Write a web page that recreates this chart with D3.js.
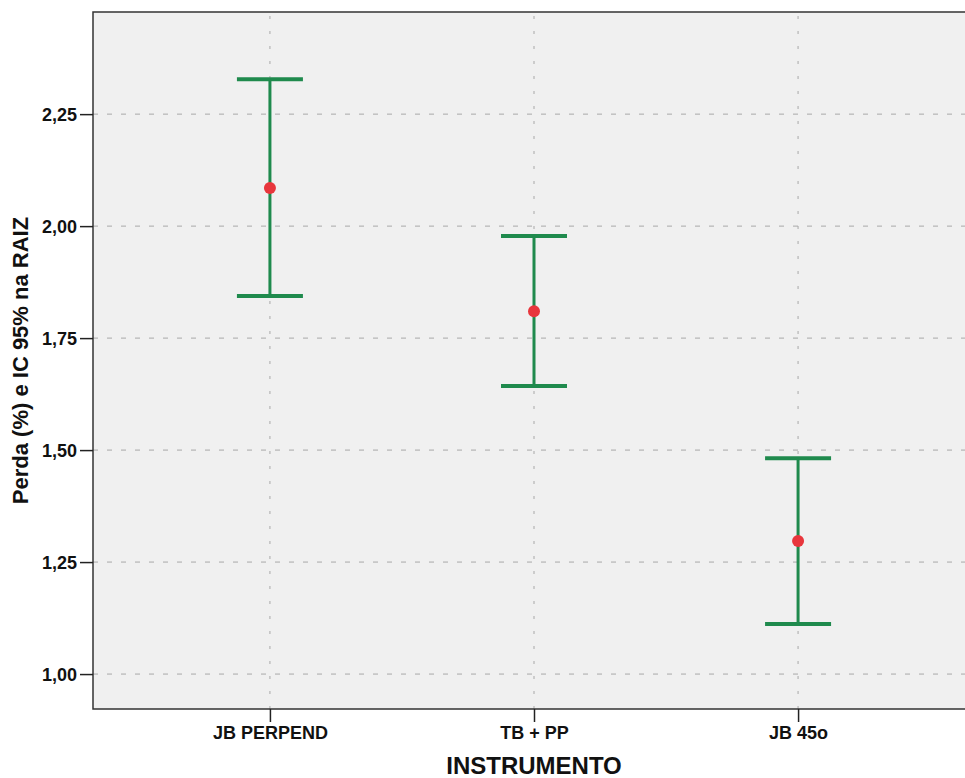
<!DOCTYPE html>
<html lang="pt">
<head>
    <meta charset="UTF-8">
    <title>Perda (%) e IC 95% na RAIZ</title>
    <script src="https://d3js.org/d3.v7.min.js"></script>
    <style>
        body { margin: 0; background: #fff; }
        .tick text { font-family: "Liberation Sans", Arial, sans-serif; font-weight: bold; font-size: 18px; fill: #111; }
        .title { font-family: "Liberation Sans", Arial, sans-serif; font-weight: bold; fill: #111; }
        .grid line { stroke: #a8a8a8; stroke-width: 1; stroke-dasharray: 5,9; }
    </style>
</head>
<body>
<svg width="965" height="778"></svg>
<script>
    // Data
    const categories = ["JB PERPEND", "TB + PP", "JB 45o"];
    const means = [2.085, 1.810, 1.297];
    const lower = [1.844, 1.643, 1.112];
    const upper = [2.328, 1.978, 1.482];
    const yTicks = [1.00, 1.25, 1.50, 1.75, 2.00, 2.25];

    const svg = d3.select("svg");
    const margin = { top: 12, right: -10, bottom: 69, left: 93 };
    const width = 965 - margin.left - margin.right,
          height = 778 - margin.top - margin.bottom;

    const x = d3.scalePoint().domain(categories).range([0, width]).padding(0.67);
    const y = d3.scaleLinear().domain([0.922, 2.478]).range([height, 0]);

    const g = svg.append("g").attr("transform", `translate(${margin.left},${margin.top})`);

    // plot background
    g.append("rect")
        .attr("width", width).attr("height", height)
        .attr("fill", "#f0f0f0");

    // gridlines
    g.append("g").attr("class", "grid")
        .selectAll("line").data(yTicks).join("line")
        .attr("x1", 0).attr("x2", width)
        .attr("y1", d => y(d)).attr("y2", d => y(d));
    g.append("g").attr("class", "grid")
        .selectAll("line").data(categories).join("line")
        .attr("x1", d => x(d)).attr("x2", d => x(d))
        .attr("y1", 4).attr("y2", height)
        .style("stroke-dasharray", "3,12");

    // error bars
    const rows = categories.map((c, i) => ({ c, m: means[i], lo: lower[i], hi: upper[i] }));
    const green = "#1f8a4d", cap = 33;
    const bars = g.append("g").selectAll("g").data(rows).join("g");
    bars.append("line")
        .attr("x1", d => x(d.c)).attr("x2", d => x(d.c))
        .attr("y1", d => y(d.hi)).attr("y2", d => y(d.lo))
        .attr("stroke", green).attr("stroke-width", 3);
    bars.append("line")
        .attr("x1", d => x(d.c) - cap).attr("x2", d => x(d.c) + cap)
        .attr("y1", d => y(d.hi)).attr("y2", d => y(d.hi))
        .attr("stroke", green).attr("stroke-width", 4);
    bars.append("line")
        .attr("x1", d => x(d.c) - cap).attr("x2", d => x(d.c) + cap)
        .attr("y1", d => y(d.lo)).attr("y2", d => y(d.lo))
        .attr("stroke", green).attr("stroke-width", 4);
    bars.append("circle")
        .attr("cx", d => x(d.c)).attr("cy", d => y(d.m))
        .attr("r", 6).attr("fill", "#e8363c");

    // frame
    g.append("rect")
        .attr("width", width).attr("height", height)
        .attr("fill", "none").attr("stroke", "#333").attr("stroke-width", 1.5);

    // axes
    const yAxis = g.append("g")
        .call(d3.axisLeft(y).tickValues(yTicks).tickFormat(d => d3.format(".2f")(d).replace(".", ",")).tickSize(13).tickPadding(3));
    yAxis.select(".domain").remove();
    yAxis.selectAll(".tick line").attr("stroke", "#222").attr("stroke-width", 1.5);
    yAxis.selectAll(".tick text").attr("dy", "0.36em");

    const xAxis = g.append("g")
        .attr("transform", `translate(0,${height})`)
        .call(d3.axisBottom(x).tickSize(13).tickPadding(4));
    xAxis.select(".domain").remove();
    xAxis.selectAll(".tick line").attr("stroke", "#222").attr("stroke-width", 1.5);

    // axis titles
    svg.append("text").attr("class", "title")
        .attr("x", margin.left + x("TB + PP")).attr("y", 774)
        .attr("text-anchor", "middle").style("font-size", "24px")
        .text("INSTRUMENTO");
    svg.append("text").attr("class", "title")
        .attr("transform", `translate(28,${margin.top + height / 2}) rotate(-90)`)
        .attr("text-anchor", "middle").style("font-size", "22px")
        .text("Perda (%) e IC 95% na RAIZ");
</script>
</body>
</html>
